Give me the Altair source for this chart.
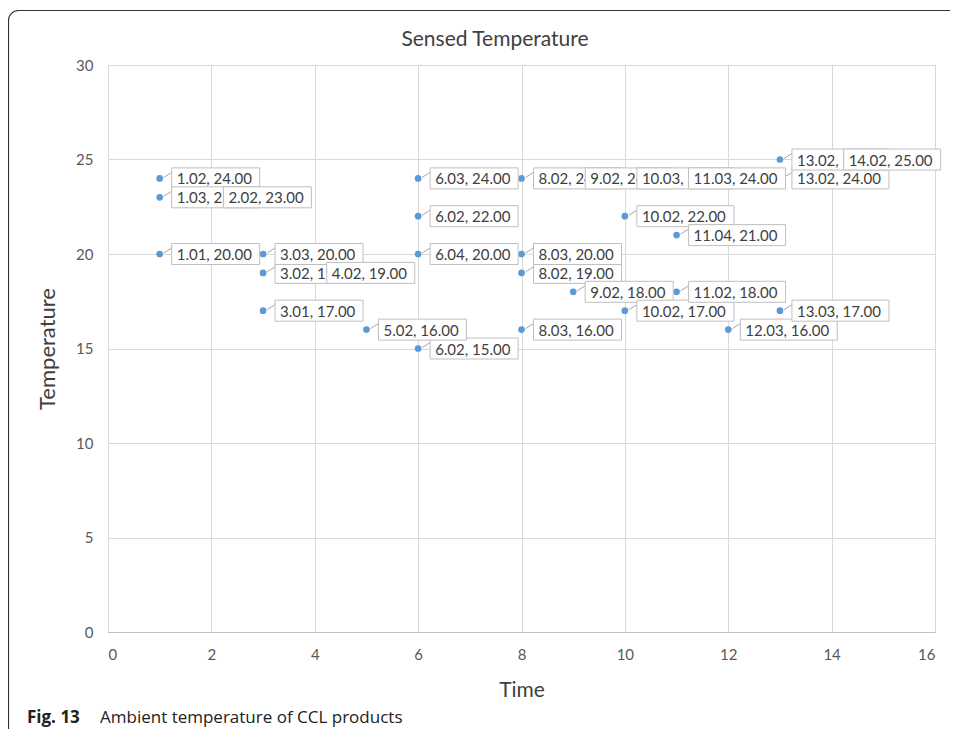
import altair as alt
import pandas as pd

# Data (drawing order of the data labels)
times = [1, 1, 2, 1, 3, 3, 4, 3, 6, 5, 6, 6, 6, 8, 9, 10, 11, 13, 13, 14, 8, 8, 8, 9, 10, 11, 10, 11, 12, 13]
temps = [24, 23, 23, 20, 19, 20, 19, 17, 15, 16, 24, 22, 20, 24, 24, 24, 24, 24, 25, 25, 19, 20, 16, 18, 17, 18, 22, 21, 16, 17]
labels = ["1.02, 24.00", "1.03, 23.00", "2.02, 23.00", "1.01, 20.00", "3.02, 19.00",
          "3.03, 20.00", "4.02, 19.00", "3.01, 17.00", "6.02, 15.00", "5.02, 16.00",
          "6.03, 24.00", "6.02, 22.00", "6.04, 20.00", "8.02, 24.00", "9.02, 24.00",
          "10.03, 24.00", "11.03, 24.00", "13.02, 24.00", "13.02, 25.00", "14.02, 25.00",
          "8.02, 19.00", "8.03, 20.00", "8.03, 16.00", "9.02, 18.00", "10.02, 17.00",
          "11.02, 18.00", "10.02, 22.00", "11.04, 21.00", "12.03, 16.00", "13.03, 17.00"]
x_ticks = [0, 2, 4, 6, 8, 10, 12, 14, 16]
y_ticks = [0, 5, 10, 15, 20, 25, 30]

df = pd.DataFrame({"time": times, "temp": temps, "label": labels,
                   "idx": list(range(len(times)))})
one = pd.DataFrame({"k": [0]})

FONT = "Lato"
GRID = "#d9d9d9"
PT = "#5B9BD5"

xs = alt.Scale(domain=[0, 16], nice=False)
ys = alt.Scale(domain=[0, 30], nice=False)

X = alt.X("time:Q", scale=xs, title="Time",
          axis=alt.Axis(values=x_ticks, grid=True, gridColor=GRID, domainColor="#bfbfbf",
                        ticks=False, labelFont=FONT, labelFontSize=15, labelColor="#595959",
                        labelPadding=15, titleFont=FONT, titleFontSize=21, titleColor="#404040",
                        titleFontWeight="normal", titlePadding=17))
Y = alt.Y("temp:Q", scale=ys, title="Temperature",
          axis=alt.Axis(values=y_ticks, grid=True, gridColor=GRID, domain=False,
                        ticks=False, labelFont=FONT, labelFontSize=15, labelColor="#595959",
                        labelPadding=15, titleFont=FONT, titleFontSize=22, titleColor="#404040",
                        titleFontWeight="normal", titlePadding=16))

base = alt.Chart(df)

points = base.mark_circle(size=45, color=PT, opacity=1).encode(x=X, y=Y)

leaders = base.mark_rule(color="#a6a6a6", strokeWidth=1, xOffset=4, x2Offset=12,
                         yOffset=-1, y2Offset=-6).encode(
    x=X, x2="time:Q", y=Y, y2="temp:Q")

label_layers = []
for i, lab in enumerate(labels):
    w = 97 if len(lab) > 11 else 88
    rect = base.mark_rect(fill="white", stroke="#bfbfbf", strokeWidth=1,
                          xOffset=12, x2Offset=12 + w, yOffset=-10.5, y2Offset=10.5).encode(
        x=X, x2="time:Q", y=Y, y2="temp:Q")
    txt = base.mark_text(align="left", baseline="middle", dx=17, dy=1, font=FONT,
                         fontSize=15, color="#404040").encode(x=X, y=Y, text="label:N")
    label_layers.append(alt.layer(rect, txt).transform_filter(alt.datum.idx == i))

deco = alt.Chart(one)

frame = deco.mark_rect(fill=None, stroke="#333333", strokeWidth=1.2, cornerRadius=10).encode(
    x=alt.value(-99.5), x2=alt.value(900), y=alt.value(-54.5), y2=alt.value(720))

title = deco.mark_text(align="center", baseline="alphabetic", font=FONT, fontSize=21,
                       color="#404040").encode(
    x=alt.value(387), y=alt.value(-19), text=alt.value("Sensed Temperature"))

cap_bold = deco.mark_text(align="left", baseline="alphabetic", font="Open Sans",
                          fontSize=17, fontWeight="bold", color="#222222").encode(
    x=alt.value(-81), y=alt.value(658), text=alt.value("Fig. 13"))
cap_rest = deco.mark_text(align="left", baseline="alphabetic", font="Open Sans",
                          fontSize=17, color="#222222").encode(
    x=alt.value(-8), y=alt.value(658), text=alt.value("Ambient temperature of CCL products"))

chart = alt.layer(points, leaders, *label_layers, frame, title, cap_bold, cap_rest).properties(
    width=827, height=567,
    autosize=alt.AutoSizeParams(type="none"),
    padding={"left": 100, "top": 57, "right": 15, "bottom": 97},
).configure_view(stroke=None).configure(background="white")

chart.save("out.html", embed_options={"renderer": "svg", "actions": False})
